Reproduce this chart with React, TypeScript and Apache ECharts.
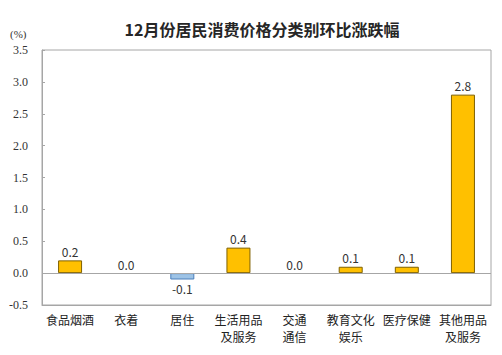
import React, { useEffect, useRef } from "react";
import * as echarts from "echarts";

const categories = ["食品烟酒", "衣着", "居住", "生活用品\n及服务", "交通\n通信", "教育文化\n娱乐", "医疗保健", "其他用品\n及服务"];
const values = [0.2, 0.0, -0.1, 0.4, 0.0, 0.1, 0.1, 2.8];
const yTicks = { min: -0.5, max: 3.5, interval: 0.5 };
const title = "12月份居民消费价格分类别环比涨跌幅";
const unit = "(%)";

export default function App() {
  const ref = useRef<HTMLDivElement>(null);
  useEffect(() => {
    const chart = echarts.init(ref.current!, null, { renderer: "svg" });
    const sans = "'Microsoft YaHei', 'Noto Sans CJK SC', 'Liberation Sans', sans-serif";
    chart.setOption({
      animation: false,
      backgroundColor: "#ffffff",
      title: {
        text: title,
        left: 257,
        textAlign: "center",
        top: 16,
        textStyle: { fontSize: 16, fontWeight: "bold", color: "#262626", fontFamily: sans },
      },
      graphic: [
        {
          type: "text",
          x: 10,
          y: 28,
          style: { text: unit, fontSize: 11, fill: "#333", fontFamily: "'Liberation Serif', serif" },
        },
      ],
      grid: {
        left: 42,
        right: 11,
        top: 50,
        bottom: 50,
        show: true,
        borderColor: "#a6a6a6",
        borderWidth: 1,
        containLabel: false,
      },
      xAxis: {
        type: "category",
        data: categories,
        axisLine: { show: true, onZero: false, lineStyle: { color: "#a6a6a6" } },
        axisTick: { show: false },
        axisLabel: {
          interval: 0,
          margin: 6,
          fontSize: 12,
          lineHeight: 17,
          color: "#222",
          fontFamily: sans,
        },
      },
      yAxis: {
        type: "value",
        min: yTicks.min,
        max: yTicks.max,
        interval: yTicks.interval,
        axisLine: { show: true, lineStyle: { color: "#a6a6a6" } },
        axisTick: { show: true, inside: true, length: 3, lineStyle: { color: "#a6a6a6" } },
        splitLine: { show: false },
        axisLabel: {
          margin: 14,
          fontSize: 12,
          color: "#333",
          fontFamily: "'Liberation Serif', serif",
          formatter: (v: number) => v.toFixed(1),
        },
      },
      series: [
        {
          type: "bar",
          barWidth: 24,
          data: values.map((v) => ({
            value: v,
            itemStyle:
              v < 0
                ? { color: "#9dc3e6", borderColor: "#4a7ebb", borderWidth: 1 }
                : { color: "#ffc000", borderColor: "#7f6000", borderWidth: v === 0 ? 0 : 1 },
            label: { position: v < 0 ? "bottom" : "top" },
          })),
          label: {
            show: true,
            distance: 3,
            fontSize: 12,
            color: "#333",
            fontFamily: sans,
            formatter: (p: any) => Number(p.value).toFixed(1),
          },
          markLine: {
            silent: true,
            symbol: "none",
            label: { show: false },
            lineStyle: { color: "#a6a6a6", type: "solid", width: 1 },
            data: [{ yAxis: 0 }],
          },
        },
      ],
    });
    return () => chart.dispose();
  }, []);
  return <div ref={ref} style={{ position: "fixed", left: 0, top: 0, width: 502, height: 355 }} />;
}
